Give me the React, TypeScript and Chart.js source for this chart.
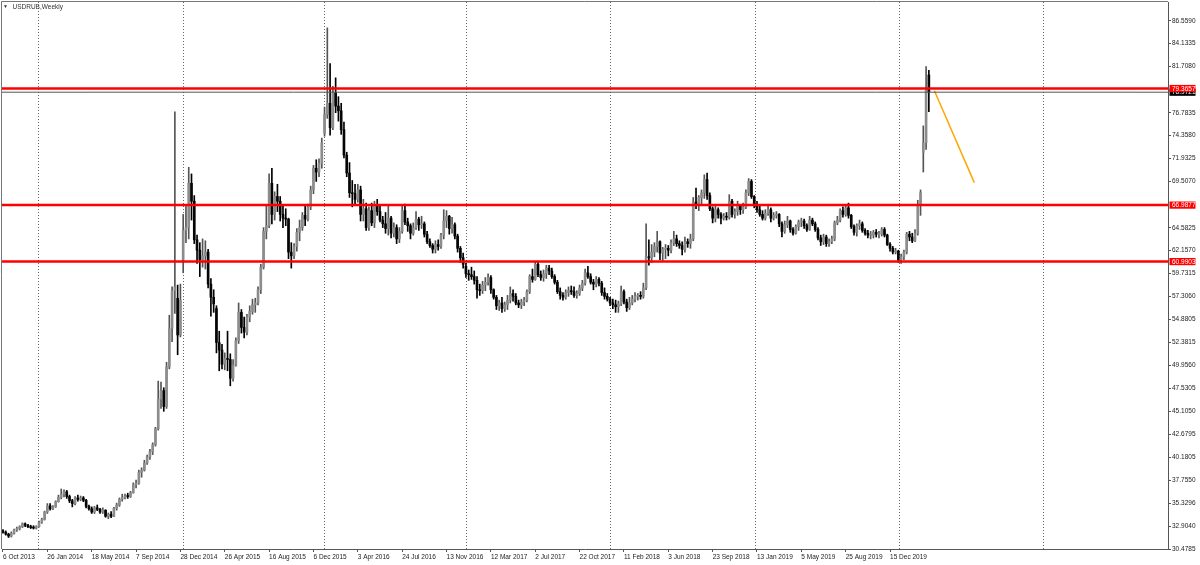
import React, { useEffect, useRef } from "react";
import { Chart, registerables } from "chart.js";

Chart.register(...registerables);

// Weekly USDRUB bars, bar index 0 = 6 Oct 2013
const opens = [
  32.40,32.25,32.05,31.85,32.15,32.50,32.65,32.85,33.15,33.00,
  32.85,32.75,32.70,32.85,33.30,33.60,34.40,35.05,34.75,34.95,
  35.50,35.95,36.30,36.55,36.05,35.60,35.30,35.90,35.75,35.90,
  35.65,35.00,34.75,34.40,34.85,34.70,34.40,34.60,33.95,34.15,
  33.95,34.80,35.15,35.75,35.95,36.10,36.05,36.45,37.30,37.45,
  38.60,38.85,39.60,40.25,40.80,41.55,43.25,46.40,47.30,45.60,
  49.80,53.90,57.90,57.10,53.20,61.20,64.30,64.60,69.30,67.40,
  63.30,62.20,61.20,61.60,62.00,58.60,57.20,56.00,52.40,51.60,
  50.10,50.70,50.60,48.60,50.00,52.60,55.60,54.00,53.50,55.10,
  55.70,56.40,56.60,58.00,60.40,64.20,64.80,69.30,66.00,67.90,
  67.40,66.00,65.60,65.50,62.00,61.60,62.60,64.10,64.60,65.90,
  65.50,66.80,68.60,70.90,70.50,71.40,74.60,76.60,77.80,75.20,
  78.90,77.50,77.00,75.00,72.30,70.40,68.30,68.20,67.60,68.60,
  66.00,66.60,64.60,66.40,65.10,66.90,66.30,65.40,65.00,64.50,
  65.60,64.00,64.60,63.40,64.20,66.40,65.20,64.80,64.00,64.60,
  65.50,64.90,65.00,63.90,63.10,62.70,62.30,62.80,62.60,63.80,
  65.30,65.80,64.50,64.90,63.70,62.40,61.40,60.50,59.70,59.60,
  59.40,59.00,58.00,57.90,58.50,58.80,59.30,58.00,57.20,56.30,
  56.60,56.00,56.40,56.90,57.60,57.30,56.60,56.40,56.70,56.90,
  57.80,59.40,59.10,60.70,59.60,59.30,59.70,60.30,60.00,59.40,
  58.80,57.80,57.40,57.20,57.70,57.90,57.80,57.40,57.60,58.20,
  58.70,59.80,59.40,58.80,58.60,59.10,58.70,57.70,57.30,57.00,
  56.60,56.40,56.20,56.50,57.80,56.70,56.10,56.60,57.00,57.30,
  57.40,57.30,58.20,61.50,61.40,62.00,62.60,63.10,61.90,62.30,
  62.40,62.20,63.00,63.40,62.90,62.70,62.30,63.10,62.90,63.40,
  67.30,67.10,67.80,68.30,69.70,68.00,66.60,65.60,66.50,66.00,
  65.60,65.80,65.70,67.40,66.00,66.30,66.90,66.50,66.80,68.30,
  69.50,67.90,67.00,66.50,66.00,65.60,66.10,66.50,65.60,65.90,
  66.00,65.00,64.20,64.90,65.30,64.40,64.00,64.70,65.20,65.30,
  64.80,64.40,65.40,65.00,64.40,63.50,63.10,63.60,62.90,63.10,
  63.40,65.10,65.40,66.40,66.00,66.70,65.90,64.70,64.10,64.80,
  65.00,64.30,64.00,63.80,63.80,64.10,63.90,63.90,64.40,63.80,
  62.80,62.40,62.00,62.10,61.20,61.50,62.00,63.90,63.60,63.20,
  64.00,67.00,72.60,73.60,80.80,
];

const highs = [
  32.55,32.40,32.15,32.30,32.60,32.80,32.95,33.25,33.25,33.10,
  33.00,32.95,32.95,33.45,33.75,34.50,35.30,35.30,35.10,35.60,
  36.20,36.85,36.75,36.70,36.20,35.75,36.05,36.20,36.10,36.05,
  35.75,35.15,34.95,35.00,35.15,34.80,34.85,34.65,34.30,34.45,
  34.90,35.35,35.90,36.30,36.30,36.40,36.60,37.50,37.80,38.85,
  39.10,39.90,40.45,41.05,41.75,43.40,48.30,48.20,47.60,50.30,
  55.30,58.30,76.90,58.50,58.60,66.00,66.90,71.00,70.30,68.00,
  63.80,63.00,63.40,63.20,62.30,59.20,58.00,56.30,53.60,52.20,
  51.30,53.60,51.20,50.60,52.90,56.60,55.90,55.10,55.40,56.30,
  57.00,57.10,58.30,60.70,64.60,66.90,70.30,70.90,68.40,69.20,
  67.90,66.90,66.60,65.60,63.00,62.90,64.50,65.40,66.20,67.00,
  67.10,69.00,71.20,71.80,71.90,74.10,77.40,85.80,82.00,79.60,
  80.50,78.50,77.80,75.80,72.60,71.50,69.60,69.20,69.20,69.00,
  67.60,67.20,66.80,67.20,67.40,67.60,67.00,65.80,66.20,67.00,
  65.80,65.10,64.90,64.60,67.00,67.10,65.60,65.00,65.10,66.30,
  65.70,65.80,65.20,64.20,63.40,62.90,63.20,63.30,64.00,66.50,
  66.40,65.90,65.70,65.10,63.90,62.60,61.90,60.80,60.10,60.40,
  60.00,59.40,58.60,58.90,59.30,59.70,59.50,58.10,57.40,56.90,
  57.20,56.70,57.40,58.30,58.00,57.60,56.90,57.00,57.20,58.00,
  59.60,60.20,61.00,61.00,60.00,60.10,60.60,60.60,60.30,59.60,
  59.00,58.20,57.70,58.00,58.30,58.40,58.30,57.90,58.50,59.00,
  60.20,60.50,59.70,59.10,59.40,59.30,58.90,58.20,57.60,57.20,
  57.00,56.90,56.80,58.40,58.00,57.00,57.20,57.40,57.70,57.60,
  57.80,58.70,65.00,63.30,62.80,63.00,64.20,63.20,62.50,62.80,
  62.70,63.30,64.20,63.80,63.20,63.10,63.60,63.40,63.90,67.80,
  68.80,68.00,68.60,70.20,70.40,68.30,66.80,66.90,66.70,66.20,
  66.10,66.20,68.10,67.60,66.60,67.40,67.00,67.20,68.60,69.80,
  69.70,68.00,67.40,66.90,66.40,66.50,67.00,66.70,66.20,66.30,
  66.10,65.20,65.30,65.80,65.40,64.60,64.90,65.40,65.60,65.50,
  65.00,65.80,65.60,65.20,64.60,63.80,63.90,63.80,63.40,63.70,
  65.30,65.80,66.60,66.80,67.00,67.20,66.00,64.90,65.00,65.40,
  65.20,64.50,64.30,64.20,64.30,64.40,64.20,64.60,64.60,63.90,
  63.00,62.60,62.40,62.20,61.80,62.20,64.10,64.20,64.00,64.40,
  67.50,68.60,75.40,81.70,81.30,
];

const lows = [
  32.15,31.95,31.70,31.75,32.05,32.35,32.50,32.75,32.85,32.75,
  32.65,32.60,32.60,32.80,33.20,33.55,34.25,34.60,34.65,34.90,
  35.45,35.80,36.00,35.85,35.40,34.95,35.15,35.55,35.60,35.50,
  34.85,34.60,34.25,34.25,34.55,34.25,34.25,33.85,33.70,33.80,
  33.90,34.60,35.00,35.55,35.80,35.85,35.95,36.40,36.95,37.35,
  38.10,38.75,39.45,40.00,40.50,41.40,43.10,45.40,45.10,45.40,
  49.60,52.50,55.50,51.10,53.00,59.80,63.00,63.40,65.40,62.90,
  60.80,59.40,60.40,60.20,58.20,55.20,55.60,51.30,49.40,49.60,
  49.50,49.40,47.80,48.30,49.90,52.30,53.40,52.90,53.20,54.60,
  55.40,55.60,56.40,57.60,60.20,63.40,64.60,65.00,65.40,66.30,
  65.30,64.60,64.80,61.30,60.30,61.30,62.10,63.20,64.30,64.80,
  65.30,66.50,68.20,69.50,70.00,70.90,74.30,76.20,74.40,75.00,
  76.80,75.90,74.50,72.00,70.00,67.80,66.80,67.00,67.30,65.30,
  65.30,64.30,64.30,64.80,64.60,65.90,65.20,64.60,64.00,63.80,
  63.50,63.60,62.90,63.00,64.00,64.90,64.20,63.40,63.80,64.40,
  64.30,64.50,63.60,62.90,62.50,61.90,61.90,62.20,62.40,63.40,
  64.60,63.90,64.00,63.40,62.00,60.90,60.30,59.30,59.00,59.10,
  58.60,57.10,57.40,57.60,57.90,58.50,57.60,57.00,55.90,55.80,
  55.60,55.70,55.90,56.60,56.80,56.40,56.10,56.00,56.30,56.70,
  57.60,58.80,59.00,59.40,59.00,58.90,59.20,59.60,59.20,58.60,
  57.60,57.00,56.90,57.00,57.30,57.50,57.20,57.10,57.40,57.90,
  58.50,59.20,58.60,58.00,58.30,58.40,57.40,57.00,56.80,56.30,
  56.00,55.60,55.60,56.30,56.50,55.70,55.90,56.40,56.70,56.90,
  57.00,57.10,58.00,60.60,60.90,61.50,62.00,61.20,61.00,61.30,
  61.60,61.90,62.70,62.60,62.40,61.70,62.00,62.50,62.40,63.20,
  66.60,66.40,67.00,67.70,67.60,66.40,65.10,65.20,65.60,65.00,
  65.40,65.40,65.50,65.70,65.60,65.90,66.00,66.10,66.60,68.00,
  67.70,66.70,66.20,65.80,65.40,65.40,65.90,65.20,65.40,65.60,
  64.70,63.60,64.00,64.60,64.10,63.80,63.90,64.30,64.70,64.50,
  64.20,64.30,64.80,64.20,63.30,62.70,62.80,62.60,62.60,62.90,
  63.20,64.90,65.20,65.70,65.80,65.60,64.50,63.80,63.70,64.40,
  64.10,63.80,63.50,63.40,63.50,63.60,63.50,63.70,63.60,62.70,
  62.10,61.80,61.80,60.90,60.80,61.20,61.80,63.20,63.00,63.10,
  63.80,65.90,70.50,72.90,76.90,
];

const closes = [
  32.25,32.05,31.85,32.15,32.50,32.65,32.85,33.15,33.00,32.85,
  32.75,32.70,32.85,33.30,33.60,34.40,35.05,34.75,34.95,35.50,
  35.95,36.30,36.55,36.05,35.60,35.30,35.90,35.75,35.90,35.65,
  35.00,34.75,34.40,34.85,34.70,34.40,34.60,33.95,34.15,33.95,
  34.80,35.15,35.75,35.95,36.10,36.05,36.45,37.30,37.45,38.60,
  38.85,39.60,40.25,40.80,41.55,43.25,46.40,47.30,45.60,49.80,
  53.90,57.90,58.30,53.20,56.90,64.30,64.60,69.30,67.40,63.30,
  62.20,61.20,61.60,62.00,58.60,57.20,56.50,52.40,51.60,50.10,
  50.70,50.60,48.60,50.00,52.60,55.60,54.00,53.50,55.10,55.70,
  56.40,56.60,58.00,60.40,64.20,64.80,69.30,66.00,67.90,67.40,
  66.00,65.60,65.50,62.00,61.60,62.60,64.10,64.60,65.90,65.50,
  66.80,68.60,70.90,70.50,71.40,73.60,76.60,77.80,75.20,78.90,
  77.50,77.00,75.00,72.30,70.40,68.30,68.20,67.60,68.60,66.00,
  66.60,64.60,66.40,65.10,66.90,66.30,65.40,65.00,64.50,65.60,
  64.00,64.60,63.40,64.20,66.40,65.20,64.80,64.00,64.60,65.50,
  64.90,65.00,63.90,63.10,62.70,62.30,62.80,62.60,63.80,65.30,
  65.80,64.50,64.90,63.70,62.40,61.40,60.70,59.70,59.60,59.40,
  59.00,58.00,57.90,58.50,58.80,59.30,58.00,57.20,56.30,56.60,
  56.00,56.40,56.90,57.60,57.30,56.60,56.40,56.70,56.90,57.80,
  59.40,59.10,60.70,59.60,59.30,59.70,60.30,60.00,59.40,58.80,
  57.80,57.40,57.20,57.70,57.90,57.80,57.40,57.60,58.20,58.70,
  59.80,59.40,58.80,58.60,59.10,58.70,57.70,57.30,57.00,56.60,
  56.40,56.20,56.50,57.80,56.70,56.10,56.60,57.00,57.30,57.40,
  57.30,58.20,61.50,61.40,62.00,62.60,63.10,61.90,62.30,62.40,
  62.20,63.00,63.40,62.90,62.70,62.30,63.10,62.90,63.40,67.30,
  67.10,67.80,68.30,69.70,68.00,66.60,65.60,66.50,66.00,65.60,
  65.80,65.70,67.40,66.00,66.30,66.90,66.50,66.80,68.30,69.50,
  67.90,67.00,66.50,66.00,65.60,66.10,66.50,65.60,65.90,66.00,
  65.00,64.20,64.90,65.30,64.40,64.00,64.70,65.20,65.30,64.80,
  64.40,65.40,65.00,64.40,63.50,63.10,63.60,62.90,63.10,63.40,
  65.10,65.40,66.40,66.00,66.70,65.90,64.70,64.10,64.80,65.00,
  64.30,64.00,63.80,63.80,64.10,63.90,63.90,64.40,63.80,62.80,
  62.40,62.00,62.10,61.20,61.50,62.00,63.90,63.60,63.20,64.00,
  67.00,68.30,73.60,79.20,78.9721,
];

// Time axis labels (bar index -> date text)
const labelBars = [0,16,32,48,64,80,96,112,128,144,160,176,192,208,224,240,256,272,288,304,320];
const dateLabels = [
  "6 Oct 2013","26 Jan 2014","18 May 2014","7 Sep 2014","28 Dec 2014","26 Apr 2015",
  "16 Aug 2015","6 Dec 2015","3 Apr 2016","24 Jul 2016","13 Nov 2016","12 Mar 2017",
  "2 Jul 2017","22 Oct 2017","11 Feb 2018","3 Jun 2018","23 Sep 2018","13 Jan 2019",
  "5 May 2019","25 Aug 2019","15 Dec 2019",
];

// Price axis tick labels
const priceTicks = [
  86.559,84.1335,81.708,76.7835,74.358,71.9325,69.507,64.5825,62.157,59.7315,
  57.306,54.8805,52.3815,49.956,47.5305,45.105,42.6795,40.1805,37.755,35.3296,
  32.904,30.4785,
];

// Vertical dotted grid (bar index positions)
const gridBars = [12.73, 64.83, 115.9, 166.9, 219.1, 271.3, 323.3, 375.2];

// Horizontal levels
const redLevels = [79.3657, 66.9877, 60.9903];
const currentPrice = 78.9721;

// Trend line endpoints (bar index, price)
const trendX = [336.0, 350.4];
const trendY = [79.13, 69.37];

const X_MIN = -0.36;
const X_MAX = 420.27;
const Y_MIN = 30.4785;
const Y_MAX = 88.55;

const FONT = "'Liberation Sans', Arial, sans-serif";

export default function App() {
  const ref = useRef<HTMLCanvasElement>(null);

  useEffect(() => {
    document.body.style.margin = "0";
    const canvas = ref.current;
    if (!canvas) return;

    const idx = opens.map((_, i) => i);
    const isBull = (i: number) => closes[i] >= opens[i];

    const overlay = {
      id: "mtOverlay",
      beforeDatasetsDraw(chart: any) {
        const { ctx, chartArea: a, scales } = chart;
        const x = scales.x;
        ctx.save();
        ctx.beginPath();
        ctx.rect(a.left, a.top, a.right - a.left, a.bottom - a.top);
        ctx.clip();
        ctx.strokeStyle = "#666";
        ctx.lineWidth = 1;
        ctx.setLineDash([1, 2]);
        gridBars.forEach((g) => {
          const px = Math.round(x.getPixelForValue(g)) + 0.5;
          ctx.beginPath();
          ctx.moveTo(px, a.top);
          ctx.lineTo(px, a.bottom);
          ctx.stroke();
        });
        ctx.restore();
      },
      afterDraw(chart: any) {
        const { ctx, chartArea: a, scales } = chart;
        const y = scales.y;
        ctx.save();
        // frame top/left
        ctx.strokeStyle = "#777";
        ctx.lineWidth = 1;
        ctx.beginPath();
        ctx.moveTo(a.left - 0.5, a.bottom);
        ctx.lineTo(a.left - 0.5, a.top - 0.5);
        ctx.lineTo(a.right, a.top - 0.5);
        ctx.stroke();
        // title
        ctx.fillStyle = "#333";
        ctx.textBaseline = "middle";
        ctx.textAlign = "left";
        ctx.font = `5px ${FONT}`;
        ctx.fillText("\u25BC", 3, 7);
        ctx.font = `6.5px ${FONT}`;
        ctx.fillText("USDRUB,Weekly", 12.5, 7);
        // price boxes
        const box = (v: number, bg: string) => {
          const py = y.getPixelForValue(v);
          ctx.fillStyle = bg;
          ctx.fillRect(a.right + 1.5, py - 3.6, 26, 7.2);
          ctx.fillStyle = "#fff";
          ctx.font = `6.5px ${FONT}`;
          ctx.textBaseline = "middle";
          ctx.fillText(v.toFixed(4), a.right + 4, py + 0.3);
        };
        box(currentPrice, "#000");
        redLevels.forEach((v) => box(v, "#ff0000"));
        ctx.restore();
      },
    };

    const hLine = (v: number, color: string, w: number) => ({
      type: "line" as const,
      data: [
        { x: X_MIN, y: v },
        { x: X_MAX, y: v },
      ],
      borderColor: color,
      borderWidth: w,
      pointRadius: 0,
      order: 0,
    });

    const chart = new Chart(canvas, {
      type: "bar",
      data: {
        datasets: [
          ...redLevels.map((v) => hLine(v, "#ff0000", 2.5)),
          hLine(currentPrice, "#555555", 1),
          {
            type: "line" as const,
            data: [
              { x: trendX[0], y: trendY[0] },
              { x: trendX[1], y: trendY[1] },
            ],
            borderColor: "#ffa500",
            borderWidth: 1.5,
            pointRadius: 0,
            order: 0,
          },
          {
            type: "bar" as const,
            data: idx.map((i) => ({ x: i, y: [opens[i], closes[i]] })),
            backgroundColor: (c: any) => (isBull(c.dataIndex) ? "#8c8c8c" : "#050505"),
            barThickness: 2,
            minBarLength: 1,
            grouped: false,
            borderWidth: 0,
            order: 1,
          },
          {
            type: "bar" as const,
            data: idx.map((i) => ({ x: i, y: [lows[i], highs[i]] })),
            backgroundColor: (c: any) => (isBull(c.dataIndex) ? "#555555" : "#000000"),
            barThickness: 1,
            minBarLength: 1,
            grouped: false,
            borderWidth: 0,
            order: 2,
          },
        ] as any,
      },
      options: {
        animation: false,
        responsive: false,
        maintainAspectRatio: false,
        devicePixelRatio: 1,
        events: [],
        layout: { padding: { left: 2, top: 2, right: 0, bottom: 0 } },
        plugins: {
          legend: { display: false },
          tooltip: { enabled: false },
          title: { display: false },
        },
        scales: {
          x: {
            type: "linear",
            min: X_MIN,
            max: X_MAX,
            bounds: "data",
            offset: false,
            afterBuildTicks: (s: any) => {
              s.ticks = labelBars.map((v) => ({ value: v }));
            },
            afterFit: (s: any) => {
              s.height = 16;
              s.paddingLeft = 0;
              s.paddingRight = 0;
            },
            grid: {
              offset: false,
              drawOnChartArea: false,
              drawTicks: true,
              tickLength: 3,
              color: "#555",
              tickColor: "#555",
            },
            border: { display: true, color: "#555", width: 1 },
            ticks: {
              autoSkip: false,
              maxRotation: 0,
              minRotation: 0,
              align: "start",
              padding: 1,
              color: "#222",
              font: { size: 6.5, family: FONT },
              callback: (v: any) => {
                const k = labelBars.indexOf(Number(v));
                return k >= 0 ? dateLabels[k] : "";
              },
            },
          },
          y: {
            type: "linear",
            position: "right",
            min: Y_MIN,
            max: Y_MAX,
            bounds: "data",
            beginAtZero: false,
            afterBuildTicks: (s: any) => {
              s.ticks = priceTicks.map((v) => ({ value: v }));
            },
            afterFit: (s: any) => {
              s.width = 32;
              s.paddingTop = 0;
              s.paddingBottom = 0;
            },
            grid: {
              drawOnChartArea: false,
              drawTicks: true,
              tickLength: 3,
              color: "#555",
              tickColor: "#555",
            },
            border: { display: true, color: "#555", width: 1 },
            ticks: {
              autoSkip: false,
              crossAlign: "near",
              padding: 1,
              color: "#222",
              font: { size: 6.5, family: FONT },
              callback: (v: any) => Number(v).toFixed(4),
            },
          },
        },
      } as any,
      plugins: [overlay],
    });

    return () => chart.destroy();
  }, []);

  return (
    <canvas
      ref={ref}
      width={1200}
      height={565}
      style={{ display: "block", width: 1200, height: 565 }}
    />
  );
}
